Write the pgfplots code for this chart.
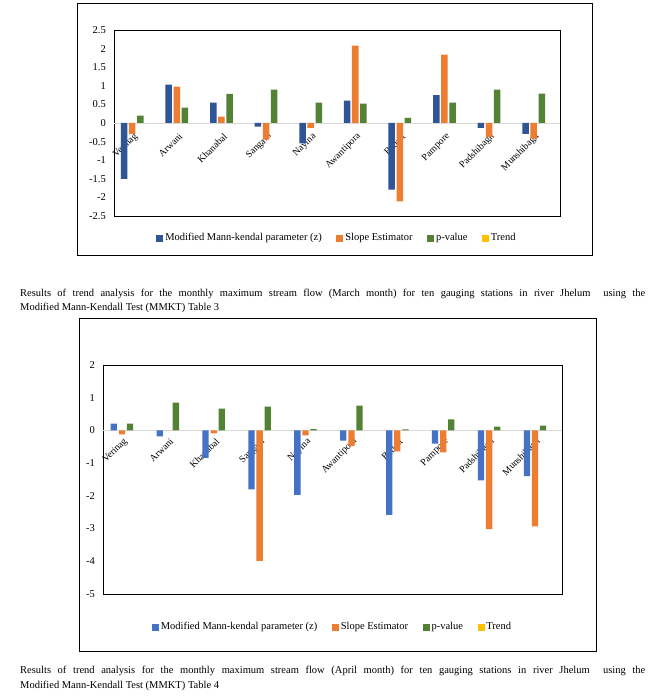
\documentclass[border=0pt]{standalone}
\usepackage{fontspec}
\setmainfont{Liberation Serif}
\usepackage{pgfplots}
\pgfplotsset{compat=1.18}
\definecolor{cblueA}{HTML}{2F5597}
\definecolor{cblueB}{HTML}{4472C4}
\definecolor{corange}{HTML}{ED7D31}
\definecolor{cgreen}{HTML}{548235}
\definecolor{cyellow}{HTML}{FFC000}
\definecolor{zeroline}{HTML}{D9D9D9}
\pgfplotsset{
  mystyle/.style={
    scale only axis, anchor=south west,
    xmin=-0.5, xmax=9.5,
    xtick={0,...,9},
    xticklabels={Verinag,Arwani,Khanabal,Sangam,Nayina,Awantipora,Batkot,Pampore,Padshibagh,Munshibagh},
    major tick length=0pt,
    axis line style={black, line width=0.8pt},
    xticklabel style={font=\fontsize{9.7}{12}\selectfont, rotate=45, anchor=east, inner sep=0pt},
    yticklabel style={font=\fontsize{10.5}{12}\selectfont, inner sep=0pt},
    yticklabel shift=8pt,
    ybar,
    extra y ticks={0}, extra y tick labels={},
    extra y tick style={grid=major, major grid style={zeroline, line width=0.8pt}},
    legend columns=4,
    legend style={draw=none, fill=none, font=\fontsize{10.5}{12}\selectfont,
      /tikz/every odd column/.append style={column sep=0.5pt},
      /tikz/every even column/.append style={column sep=12.5pt}, legend cell align=left, inner sep=0pt},
  }
}
\begin{document}
\begin{tikzpicture}
\path[use as bounding box, fill=white] (0pt,0pt) rectangle (664pt,700pt);
% outer frames
\draw[black, line width=0.8pt] (77pt,697pt) rectangle (592pt,445pt);
\draw[black, line width=0.8pt] (79pt,382pt) rectangle (596pt,49pt);
% chart 1
\begin{axis}[mystyle,
  at={(114pt,484pt)}, width=446pt, height=186pt,
  ymin=-2.5, ymax=2.5,
  ytick={-2.5,-2,-1.5,-1,-0.5,0,0.5,1,1.5,2,2.5},
  yticklabels={-2.5,-2,-1.5,-1,-0.5,0,0.5,1,1.5,2,2.5},
  xticklabel shift=-81pt,
  bar width=0.146,
  legend style={at={(0.5,-0.118)}, anchor=center},
]
\addplot[forget plot, fill=cblueA, draw=none, bar shift=-0.273] coordinates {(0,-1.50) (1,1.03) (2,0.55) (3,-0.10) (4,-0.55) (5,0.60) (6,-1.79) (7,0.75) (8,-0.13) (9,-0.29)};
\addplot[forget plot, fill=corange, draw=none, bar shift=-0.091] coordinates {(0,-0.29) (1,0.98) (2,0.17) (3,-0.45) (4,-0.13) (5,2.08) (6,-2.11) (7,1.84) (8,-0.37) (9,-0.42)};
\addplot[forget plot, fill=cgreen, draw=none, bar shift=0.091] coordinates {(0,0.20) (1,0.41) (2,0.78) (3,0.90) (4,0.55) (5,0.52) (6,0.14) (7,0.55) (8,0.90) (9,0.79)};
\addlegendimage{legend image code/.code={\fill[cblueA] (0pt,-3pt) rectangle (6pt,3pt);}}
\addlegendentry{Modified Mann-kendal parameter (z)}
\addlegendimage{legend image code/.code={\fill[corange] (0pt,-3pt) rectangle (6pt,3pt);}}
\addlegendentry{Slope Estimator}
\addlegendimage{legend image code/.code={\fill[cgreen] (0pt,-3pt) rectangle (6pt,3pt);}}
\addlegendentry{p-value}
\addlegendimage{legend image code/.code={\fill[cyellow] (0pt,-3pt) rectangle (6pt,3pt);}}
\addlegendentry{Trend}
\end{axis}
% chart 2
\begin{axis}[mystyle,
  at={(103pt,106pt)}, width=459pt, height=229pt,
  ymin=-5, ymax=2,
  ytick={-5,-4,-3,-2,-1,0,1,2},
  yticklabels={-5,-4,-3,-2,-1,0,1,2},
  xticklabel shift=-154pt,
  bar width=0.137,
  legend style={at={(0.5,-0.144)}, anchor=center},
]
\addplot[forget plot, fill=cblueB, draw=none, bar shift=-0.265] coordinates {(0,0.21) (1,-0.18) (2,-0.84) (3,-1.80) (4,-1.97) (5,-0.31) (6,-2.58) (7,-0.40) (8,-1.53) (9,-1.40)};
\addplot[forget plot, fill=corange, draw=none, bar shift=-0.088] coordinates {(0,-0.12) (1,0.00) (2,-0.09) (3,-3.99) (4,-0.15) (5,-0.48) (6,-0.64) (7,-0.67) (8,-3.02) (9,-2.93)};
\addplot[forget plot, fill=cgreen, draw=none, bar shift=0.088] coordinates {(0,0.21) (1,0.85) (2,0.67) (3,0.73) (4,0.04) (5,0.76) (6,0.03) (7,0.34) (8,0.12) (9,0.15)};
\addlegendimage{legend image code/.code={\fill[cblueB] (0pt,-3pt) rectangle (6pt,3pt);}}
\addlegendentry{Modified Mann-kendal parameter (z)}
\addlegendimage{legend image code/.code={\fill[corange] (0pt,-3pt) rectangle (6pt,3pt);}}
\addlegendentry{Slope Estimator}
\addlegendimage{legend image code/.code={\fill[cgreen] (0pt,-3pt) rectangle (6pt,3pt);}}
\addlegendentry{p-value}
\addlegendimage{legend image code/.code={\fill[cyellow] (0pt,-3pt) rectangle (6pt,3pt);}}
\addlegendentry{Trend}
\end{axis}
% captions
\node[anchor=base west, inner sep=0pt, font=\fontsize{10.5}{12}\selectfont] at (20pt,403pt)
  {\makebox[625pt][s]{Results of trend analysis for the monthly maximum stream flow (March month) for ten gauging stations in river Jhelum\ \ using the}};
\node[anchor=base west, inner sep=0pt, font=\fontsize{10.5}{12}\selectfont] at (20pt,389pt)
  {Modified Mann-Kendall Test (MMKT) Table 3};
\node[anchor=base west, inner sep=0pt, font=\fontsize{10.5}{12}\selectfont] at (20pt,26pt)
  {\makebox[625pt][s]{Results of trend analysis for the monthly maximum stream flow (April month) for ten gauging stations in river Jhelum\ \ using the}};
\node[anchor=base west, inner sep=0pt, font=\fontsize{10.5}{12}\selectfont] at (20pt,11pt)
  {Modified Mann-Kendall Test (MMKT) Table 4};
\end{tikzpicture}
\end{document}
